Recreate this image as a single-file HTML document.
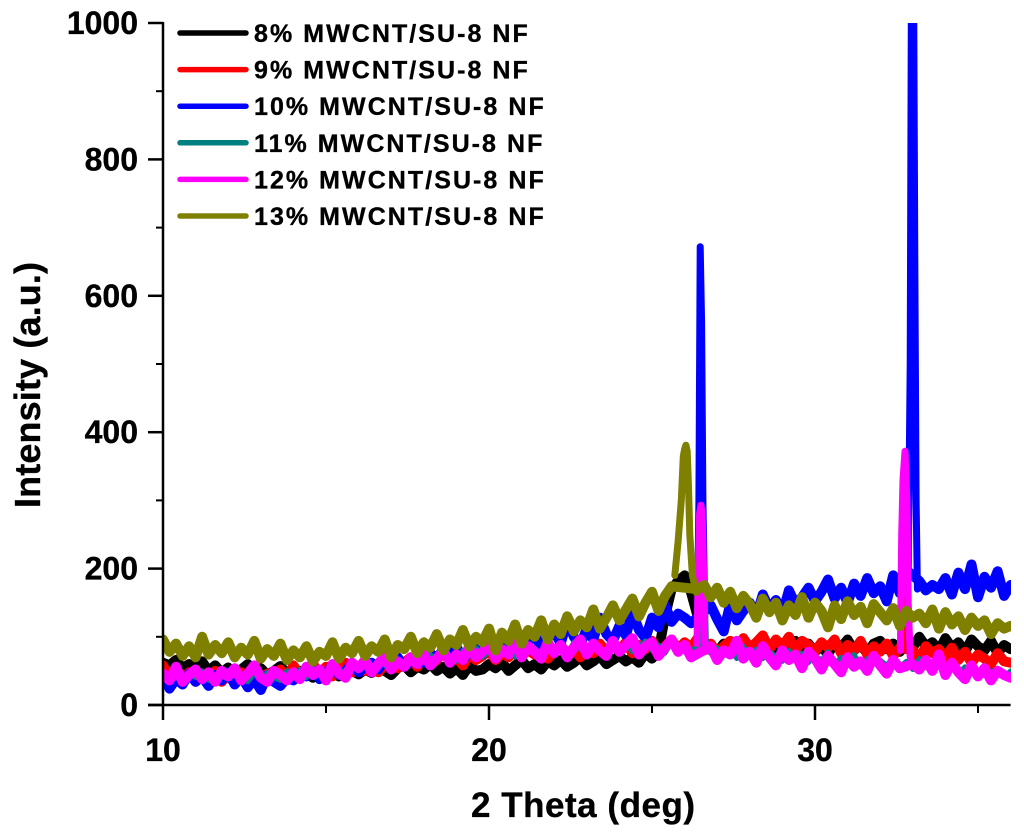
<!DOCTYPE html>
<html lang="en">
<head>
<meta charset="utf-8">
<title>XRD intensity of MWCNT/SU-8 nanofibers</title>
<style>
  html, body { margin: 0; padding: 0; background: #fff; }
  #chart { display: block; width: 1024px; height: 832px; }
  text { font-family: "Liberation Sans", Arial, sans-serif; font-weight: bold; fill: #000; stroke: #000; stroke-width: 0.35px; }
</style>
</head>
<body>
<svg id="chart" xmlns="http://www.w3.org/2000/svg" width="1024" height="832" viewBox="0 0 1024 832">
  <defs>
    <clipPath id="plot-clip"><rect x="163" y="23" width="848" height="682"/></clipPath>
  </defs>
  <g id="series-layer" clip-path="url(#plot-clip)"></g>
  <g id="axes-layer"></g>
  <text x="583" y="817" text-anchor="middle" font-size="35" textLength="224" lengthAdjust="spacing">2 Theta (deg)</text>
  <text transform="translate(40,385) rotate(-90)" text-anchor="middle" font-size="36" textLength="246" lengthAdjust="spacing">Intensity (a.u.)</text>
  <g id="legend-layer"></g>
</svg>
<script>
const angleStart = 10;
const angleStep = 0.2;

const black8 = [
  62,58,66,54,60,52,64,50,58,47,
  55,44,52,60,48,54,44,50,57,46,
  42,50,46,40,48,44,52,42,46,50,
  45,52,47,55,50,44,54,58,48,56,
  52,60,50,56,46,54,44,58,50,52,
  60,54,62,50,58,66,54,60,52,64,
  58,66,56,62,70,58,64,72,60,66,
  72,64,70,62,76,68,78,130,170,182,
  190,165,130,85,82,78,90,76,84,72,
  86,78,92,80,74,88,76,94,82,90,
  78,86,74,92,84,96,80,88,76,90,
  94,82,90,78,88,84,100,86,92,80,
  98,84,92,78,96,86,80,94,76,88,
  82
];
const red9 = [
  58,40,52,36,48,34,46,38,50,34,
  44,32,48,38,50,36,46,42,52,40,
  58,44,54,60,46,56,42,52,62,48,
  56,50,60,48,58,66,54,62,70,56,
  72,60,66,78,64,70,58,74,66,72,
  80,66,76,70,84,72,80,74,86,68,
  78,88,74,84,70,82,76,90,78,86,
  80,92,76,88,82,94,78,86,96,82,
  92,84,98,80,90,76,86,94,80,98,
  84,92,102,82,96,86,100,80,94,88,
  78,92,84,96,76,88,80,94,74,86,
  78,90,72,84,76,80,68,86,76,82,
  70,84,66,78,62,74,68,60,76,64,
  62
];
const blue10 = [
  44,24,38,30,46,34,42,28,44,36,
  48,30,42,26,38,22,44,34,28,40,
  36,48,42,52,38,46,58,44,50,60,
  48,56,62,52,66,58,70,56,64,74,
  62,76,68,82,70,86,66,78,92,74,
  88,76,94,82,100,86,92,104,84,98,
  108,90,124,100,88,112,96,128,104,94,
  116,102,136,110,98,128,114,146,122,134,
  128,120,130,118,146,126,108,148,124,138,
  150,130,162,140,154,134,168,148,158,172,
  152,166,184,156,172,150,178,160,186,164,
  174,152,190,164,198,160,182,168,176,170,
  186,162,194,170,206,158,188,172,196,160,
  176
];
const teal11 = [
  48,38,52,34,46,40,50,36,44,42,
  38,50,42,34,46,38,48,40,36,50,
  44,52,40,54,48,42,56,46,52,58,
  50,60,54,66,58,52,68,60,64,72,
  62,74,66,78,70,64,80,72,84,70,
  78,86,74,82,70,88,76,84,72,90,
  80,88,74,92,82,76,90,84,78,94,
  82,90,78,86,94,80,88,76,92,84,
  90,78,88,82,76,84,72,80,68,86,
  74,82,68,78,72,64,80,70,76,62,
  72,66,78,60,70,64,74,58,68,62,
  66,58,70,56,64,52,68,60,54,62,
  50,60,46,56,52,44,58,48,54,42,
  50
];
const magenta12 = [
  46,36,56,34,44,52,38,48,34,50,
  42,54,36,46,58,40,34,50,44,36,
  48,38,56,44,52,36,60,46,40,62,
  54,66,48,60,72,52,64,56,70,60,
  74,58,68,80,62,74,66,86,70,78,
  90,68,82,74,94,70,86,78,68,92,
  76,88,70,84,96,74,90,80,72,94,
  78,88,98,74,86,92,72,84,96,78,
  88,70,92,72,86,66,80,74,94,68,
  78,62,86,70,58,80,66,74,54,78,
  68,52,72,60,48,70,56,64,50,72,
  58,46,66,54,44,60,52,66,50,74,
  44,62,48,38,58,42,54,36,50,44,
  40
];
const olive13 = [
  96,78,90,72,86,70,100,74,88,76,
  92,70,84,74,94,68,82,72,90,66,
  80,70,86,64,78,72,92,68,84,76,
  94,72,86,78,96,70,88,82,100,76,
  92,84,104,80,96,88,110,86,100,92,
  112,80,106,94,118,90,110,100,124,96,
  118,104,130,108,124,114,140,112,128,146,
  124,140,156,130,150,166,138,160,174,200,
  250,190,170,176,158,172,150,166,142,160,
  148,128,156,136,150,124,146,132,158,128,
  150,138,114,146,126,152,132,144,120,148,
  136,124,142,116,138,128,134,120,140,112,
  136,118,130,110,128,116,124,104,120,112,
  116
];

const redSpikeAngles = [32.78, 32.84, 32.88, 32.92];
const redSpikeValues = [90, 160, 110, 80];
const blueSpikeAngles = [26.40, 26.44, 26.48, 26.52, 26.56, 26.62, 32.86, 32.92, 32.96, 33.02, 33.06, 33.10, 33.14];
const blueSpikeValues = [140, 300, 672, 560, 300, 130, 190, 500, 1100, 1100, 657, 300, 170];
const tealSpikeAngles = [26.56, 26.60, 26.64];
const tealSpikeValues = [85, 170, 85];
const magentaSpikeAngles = [26.38, 26.42, 26.46, 26.50, 26.54, 26.58, 26.62, 32.62, 32.66, 32.70, 32.76, 32.82, 32.86, 32.92];
const magentaSpikeValues = [90, 200, 280, 293, 280, 200, 90, 80, 250, 330, 372, 300, 150, 70];
const oliveSpikeAngles = [25.70, 25.80, 25.90, 25.96, 26.00, 26.04, 26.08, 26.12, 26.16, 26.24, 26.36];
const oliveSpikeValues = [190, 240, 300, 365, 375, 381, 372, 320, 250, 190, 165];

const seriesNames = ["8% MWCNT/SU-8 NF", "9% MWCNT/SU-8 NF", "10% MWCNT/SU-8 NF", "11% MWCNT/SU-8 NF", "12% MWCNT/SU-8 NF", "13% MWCNT/SU-8 NF"];
const seriesColors = ["#000000", "#ff0000", "#0000ff", "#008080", "#ff00ff", "#808000"];
const seriesValues = [black8, red9, blue10, teal11, magenta12, olive13];
const seriesSpikeAngles = [[], redSpikeAngles, blueSpikeAngles, tealSpikeAngles, magentaSpikeAngles, oliveSpikeAngles];
const seriesSpikeValues = [[], redSpikeValues, blueSpikeValues, tealSpikeValues, magentaSpikeValues, oliveSpikeValues];

const yMajorTicks = [0, 200, 400, 600, 800, 1000];
const yMinorTicks = [100, 300, 500, 700, 900];
const xMajorTicks = [10, 20, 30];
const xMinorTicks = [15, 25, 35];

const NS = "http://www.w3.org/2000/svg";
function xScale(a) { return 163 + (a - 10) * 32.6; }
function yScale(v) { return 705 - v * 0.682; }

function make(tag, attrs, parent) {
  const el = document.createElementNS(NS, tag);
  for (const k in attrs) el.setAttribute(k, attrs[k]);
  parent.appendChild(el);
  return el;
}

function toPathData(pts) {
  return pts.map(function (p, i) {
    return (i ? "L" : "M") + xScale(p[0]).toFixed(1) + " " + yScale(p[1]).toFixed(1);
  }).join(" ");
}

function spikeRanges(spikeAngles) {
  const ranges = [];
  let start = 0;
  for (let i = 1; i <= spikeAngles.length; i++) {
    if (i === spikeAngles.length || spikeAngles[i] - spikeAngles[i - 1] > 1) {
      ranges.push([start, i - 1]);
      start = i;
    }
  }
  return ranges;
}

const seriesLayer = document.getElementById("series-layer");
seriesValues.forEach(function (values, s) {
  const spikeAngles = seriesSpikeAngles[s];
  const spikeValues = seriesSpikeValues[s];
  const ranges = spikeRanges(spikeAngles);
  const bandPts = [];
  values.forEach(function (v, i) {
    const a = angleStart + i * angleStep;
    const inside = ranges.some(function (r) { return a >= spikeAngles[r[0]] && a <= spikeAngles[r[1]]; });
    if (!inside) bandPts.push([a, v]);
  });
  const band = make("path", { d: toPathData(bandPts), fill: "none", stroke: seriesColors[s], "stroke-width": s === 3 ? 5 : 10, "stroke-linejoin": "round", "stroke-linecap": "round" }, seriesLayer);
  
  
  ranges.forEach(function (r) {
    const pts = [];
    for (let i = r[0]; i <= r[1]; i++) pts.push([spikeAngles[i], spikeValues[i]]);
    const spike = make("path", { d: toPathData(pts), fill: "none", stroke: seriesColors[s], "stroke-width": 7, "stroke-linejoin": "round", "stroke-linecap": "round" }, seriesLayer);
    
    
  });
});

const axes = document.getElementById("axes-layer");
const yAxisLine = make("line", { x1: 163, y1: yScale(1000) - 1, x2: 163, y2: yScale(0), stroke: "#000", "stroke-width": 2.5 }, axes);


const xAxisLine = make("line", { x1: 148, y1: 705, x2: xScale(36), y2: 705, stroke: "#000", "stroke-width": 2.5 }, axes);



yMajorTicks.forEach(function (v) {
  const y = yScale(v);
  const tick = make("line", { x1: 148, y1: y, x2: 163, y2: y, stroke: "#000", "stroke-width": 2.5 }, axes);
  
  
  const label = make("text", { x: 138, y: y + 11, "text-anchor": "end", "font-size": 32 }, axes);
  label.textContent = String(v);
  
  
});
yMinorTicks.forEach(function (v) {
  const y = yScale(v);
  const tick = make("line", { x1: 156, y1: y, x2: 163, y2: y, stroke: "#000", "stroke-width": 2 }, axes);
  
  
});
xMajorTicks.forEach(function (a) {
  const x = xScale(a);
  const tick = make("line", { x1: x, y1: 705, x2: x, y2: 720, stroke: "#000", "stroke-width": 2.5 }, axes);
  
  
  const label = make("text", { x: x, y: 761, "text-anchor": "middle", "font-size": 32 }, axes);
  label.textContent = String(a);
  
  
});
xMinorTicks.forEach(function (a) {
  const x = xScale(a);
  const tick = make("line", { x1: x, y1: 705, x2: x, y2: 713, stroke: "#000", "stroke-width": 2 }, axes);
  
  
});

const legend = document.getElementById("legend-layer");
seriesNames.forEach(function (name, s) {
  const y = 33 + s * 36.6;
  const swatch = make("line", { x1: 180, y1: y, x2: 246, y2: y, stroke: seriesColors[s], "stroke-width": 5.5, "stroke-linecap": "round" }, legend);
  
  
  const label = make("text", { x: 254, y: y + 9, "font-size": 25, "letter-spacing": 2.05 }, legend);
  label.textContent = name;
  
  
});
</script>
</body>
</html>
